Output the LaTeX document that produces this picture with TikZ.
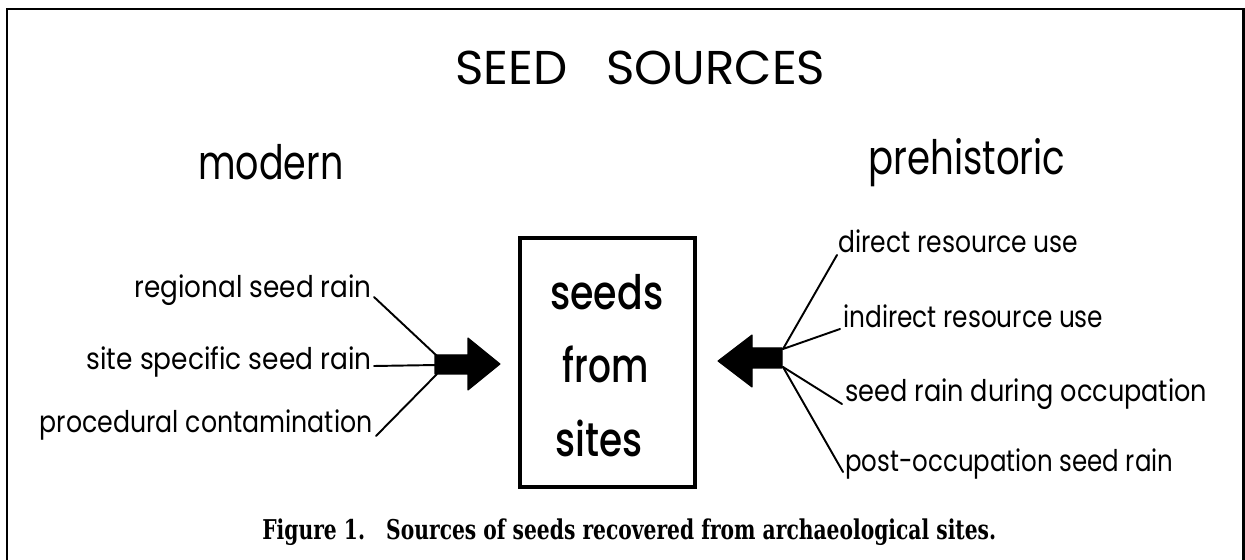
\documentclass[tikz,border=0pt]{standalone}
\usepackage{fontspec}
\setmainfont{Poppins}
\newfontfamily\mediumgeo{Poppins}[UprightFont=* Medium]
\newfontfamily\capfont{DejaVu Serif}
\usetikzlibrary{calc}

% set a text to a given width, keeping its natural height
\newcommand\fitw[2]{\resizebox{#1}{\height}{#2}}

\tikzset{
  lbl/.style={inner sep=0pt, font=\fontsize{17}{20}\selectfont},
  head/.style={inner sep=0pt, font=\fontsize{27}{32}\selectfont},
  boxtxt/.style={inner sep=0pt, font=\mediumgeo\fontsize{27}{32}\selectfont},
  titletxt/.style={inner sep=0pt, font=\fontsize{27}{32}\selectfont},
  captxt/.style={inner sep=0pt, font=\capfont\bfseries\fontsize{15.5}{18}\selectfont},
  fan/.style={line width=1.1pt, line cap=round},
  fatarrow/.style={fill=black, draw=black, line width=0.6pt, line join=round},
  frame/.style={line width=1.7pt},
  sitebox/.style={draw, line width=2.3pt, inner sep=0pt}
}

\begin{document}
\begin{tikzpicture}[x=0.02cm, y=-0.02cm]
  \useasboundingbox (0,0) rectangle (1245,560);
  \fill[white] (0,0) rectangle (1245,560);

  % outer frame (open at the bottom)
  \draw[frame] (7,600) -- (7,9) -- (1243,9) -- (1243,600);

  % title and column headings
  \node[titletxt, anchor=base west] (title) at (455,85) {\fitw{7.4cm}{SEED\ \ \ SOURCES}};
  \node[head, anchor=base west] (modern) at (198,180) {\fitw{2.9cm}{modern}};
  \node[head, anchor=base west] (prehist) at (868,175) {\fitw{3.94cm}{prehistoric}};

  % central box
  \node[sitebox, minimum width=3.5cm, minimum height=4.98cm] (box) at (607.5,362.5) {};
  \node[boxtxt, anchor=base west] (w1) at (550,310) {\fitw{2.26cm}{seeds}};
  \node[boxtxt, anchor=base west] (w2) at (562,383) {\fitw{1.72cm}{from}};
  \node[boxtxt, anchor=base west] (w3) at (555,457) {\fitw{1.74cm}{sites}};

  % modern sources
  \node[lbl, anchor=base east] (reg) at (372,298) {\fitw{4.74cm}{regional seed rain}};
  \node[lbl, anchor=base east] (spec) at (372,370) {\fitw{5.7cm}{site specific seed rain}};
  \node[lbl, anchor=base east] (proc) at (373,433) {\fitw{6.66cm}{procedural contamination}};

  % prehistoric sources
  \node[lbl, anchor=base west] (dir) at (838,253) {\fitw{4.8cm}{direct resource use}};
  \node[lbl, anchor=base west] (ind) at (843,328) {\fitw{5.2cm}{indirect resource use}};
  \node[lbl, anchor=base west] (occ) at (845,402) {\fitw{7.24cm}{seed rain during occupation}};
  \node[lbl, anchor=base west] (post) at (845,472) {\fitw{6.56cm}{post-occupation seed rain}};

  % left fat arrow into the box
  \coordinate (la) at (437,356);
  \coordinate (lb) at (437,365);
  \coordinate (lc) at (437,374);
  \fill[fatarrow] (435,355) -- (468,355) -- (468,338) -- (500,364) -- (468,390)
                  -- (468,374) -- (435,374) -- cycle;
  \draw[fan] ($(reg.base east)+(2,-1)$) -- (la);
  \draw[fan] ($(spec.base east)+(2,-4)$) -- (lb);
  \draw[fan] ($(proc.base east)+(3,3)$) -- (lc);

  % right fat arrow into the box
  \coordinate (ra) at (783,349);
  \coordinate (rb) at (783,367);
  \fill[fatarrow] (782,348) -- (752,348) -- (752,335) -- (718,361) -- (752,387)
                  -- (752,368) -- (782,368) -- cycle;
  \draw[fan] ($(dir.base west)+(-1,2)$) -- (ra);
  \draw[fan] ($(ind.base west)+(-3,1)$) -- (ra);
  \draw[fan] ($(occ.base west)+(-3,2)$) -- (rb);
  \draw[fan] ($(post.base west)+(-2,0)$) -- (rb);

  % caption
  \node[captxt, anchor=base west] (cap) at (262,540)
    {\fitw{14.68cm}{Figure 1.\ \ \ Sources of seeds recovered from archaeological sites.}};
\end{tikzpicture}
\end{document}
